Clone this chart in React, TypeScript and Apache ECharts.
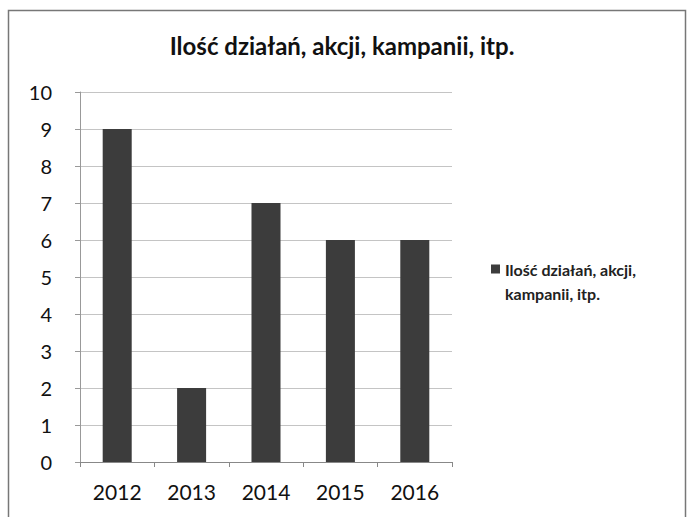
import React, { useEffect, useRef } from "react";
import * as echarts from "echarts";

const title = "Ilość działań, akcji, kampanii, itp.";
const seriesName = "Ilość działań, akcji, kampanii, itp.";
const legendLines = ["Ilość działań, akcji,", "kampanii, itp."];
const categories = ["2012", "2013", "2014", "2015", "2016"];
const values = [9, 2, 7, 6, 6];
const yTicks = [0, 1, 2, 3, 4, 5, 6, 7, 8, 9, 10];

export default function App() {
  const ref = useRef<HTMLDivElement>(null);
  useEffect(() => {
    const chart = echarts.init(ref.current!, null, { renderer: "svg" });
    chart.setOption({
      animation: false,
      backgroundColor: "#ffffff",
      textStyle: { fontFamily: "Lato" },
      title: {
        text: title,
        left: 342,
        top: 33,
        textAlign: "center",
        padding: 0,
        textStyle: { fontFamily: "Lato", fontWeight: "bold", fontSize: 24, color: "#111" },
      },
      graphic: [
        {
          type: "rect",
          shape: { x: 8.5, y: 10.5, width: 677, height: 520 },
          style: { fill: "none", stroke: "#777", lineWidth: 1.5 },
          silent: true,
        },
      ],
      grid: { left: 80, right: 235, top: 92, bottom: 55, containLabel: false },
      legend: {
        left: 491,
        top: 257,
        padding: 0,
        itemWidth: 9,
        itemHeight: 33,
        icon: "path://M0,0H10V10H0Z M0,36.7L10,36.7",
        data: [seriesName],
        formatter: () => legendLines.join("\n"),
        textStyle: { fontFamily: "Lato", fontWeight: "bold", fontSize: 16, color: "#222", lineHeight: 24 },
      },
      xAxis: {
        type: "category",
        data: categories,
        axisLine: { lineStyle: { color: "#888" } },
        axisTick: { show: true, length: 5, lineStyle: { color: "#888" } },
        axisLabel: { fontSize: 21, color: "#111", margin: 19, fontFamily: "Lato" },
      },
      yAxis: {
        type: "value",
        min: 0,
        max: 10,
        interval: 1,
        axisLine: { show: true, lineStyle: { color: "#999" } },
        axisTick: { show: true, length: 5, lineStyle: { color: "#999" } },
        axisLabel: {
          fontSize: 20,
          color: "#111",
          margin: 28,
          fontFamily: "Lato",
          formatter: (v: number) => (yTicks.includes(v) ? String(v) : ""),
        },
        splitLine: { lineStyle: { color: "#c4c4c4", width: 1 } },
      },
      series: [
        {
          name: seriesName,
          type: "bar",
          data: values,
          barWidth: "39%",
          itemStyle: { color: "#3c3c3c" },
        },
      ],
    });
    return () => chart.dispose();
  }, []);
  return (
    <div
      ref={ref}
      style={{ position: "absolute", left: 0, top: 0, width: 687, height: 517 }}
    />
  );
}
